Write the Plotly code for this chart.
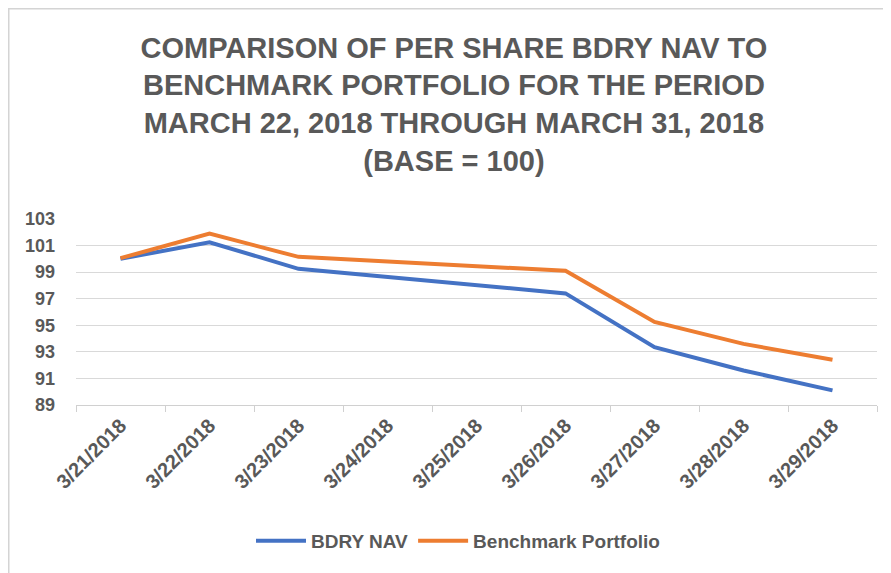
import plotly.graph_objects as go

dates = ["3/21/2018", "3/22/2018", "3/23/2018", "3/24/2018", "3/25/2018",
         "3/26/2018", "3/27/2018", "3/28/2018", "3/29/2018"]
bdry_nav = [100.0, 101.25, 99.25, None, None, 97.4, 93.35, 91.6, 90.1]
benchmark = [100.05, 101.9, 100.15, None, None, 99.1, 95.25, 93.6, 92.4]
y_ticks = [89, 91, 93, 95, 97, 99, 101, 103]

FONT = "Liberation Sans, Arial, sans-serif"
TXT = "#595959"

fig = go.Figure()
fig.add_trace(go.Scatter(x=dates, y=bdry_nav, mode="lines", name="BDRY NAV",
                         connectgaps=True, line=dict(color="#4472C4", width=4)))
fig.add_trace(go.Scatter(x=dates, y=benchmark, mode="lines", name="Benchmark Portfolio",
                         connectgaps=True, line=dict(color="#ED7D31", width=4)))

# page has an 8px body margin; figure is sized to fit the window
W, H = 883, 565
L, R, T, B = 68, 14, 211, 168
pw = W - L - R
ph = H - T - B

def px(xp):
    return (xp - L) / pw

def py(yp):
    return (H - B - yp) / ph

fig.add_shape(type="rect", xref="paper", yref="paper",
              x0=px(0.5), x1=px(W + 10), y0=py(H + 10), y1=py(0.5),
              line=dict(color="#d4d4d4", width=2), layer="below")

fig.update_layout(
    width=W, height=H,
    margin=dict(l=L, r=R, t=T, b=B),
    paper_bgcolor="white", plot_bgcolor="white",
    title=dict(
        text="<b>COMPARISON OF PER SHARE BDRY NAV TO<br>BENCHMARK PORTFOLIO FOR THE PERIOD<br>"
             "MARCH 22, 2018 THROUGH MARCH 31, 2018<br>(BASE = 100)</b>",
        x=0.505, xanchor="center", xref="container",
        y=0.912, yanchor="top", yref="container",
        font=dict(family=FONT, size=29, color=TXT),
    ),
    xaxis=dict(
        type="category", range=[-0.5, 8.5], tickson="boundaries", tickangle=-45,
        ticks="outside", ticklen=6, tickcolor="#d0d0d0",
        showline=True, linecolor="#d0d0d0", linewidth=1,
        showgrid=False,
        tickfont=dict(family=FONT, size=20, color=TXT, weight="bold"),
    ),
    yaxis=dict(
        range=[89, 103], tickvals=y_ticks,
        showgrid=True, gridcolor="#d9d9d9", gridwidth=1,
        zeroline=False, showline=False, ticks="",
        tickfont=dict(family=FONT, size=18, color=TXT, weight="bold"),
        ticklabelstandoff=20,
    ),
    legend=dict(
        orientation="h", x=px(450), xanchor="center", xref="paper",
        y=py(533), yanchor="middle",
        font=dict(family=FONT, size=19, color=TXT, weight="bold"),
        itemwidth=50,
    ),
    showlegend=True,
)

fig.write_html("out.html")
